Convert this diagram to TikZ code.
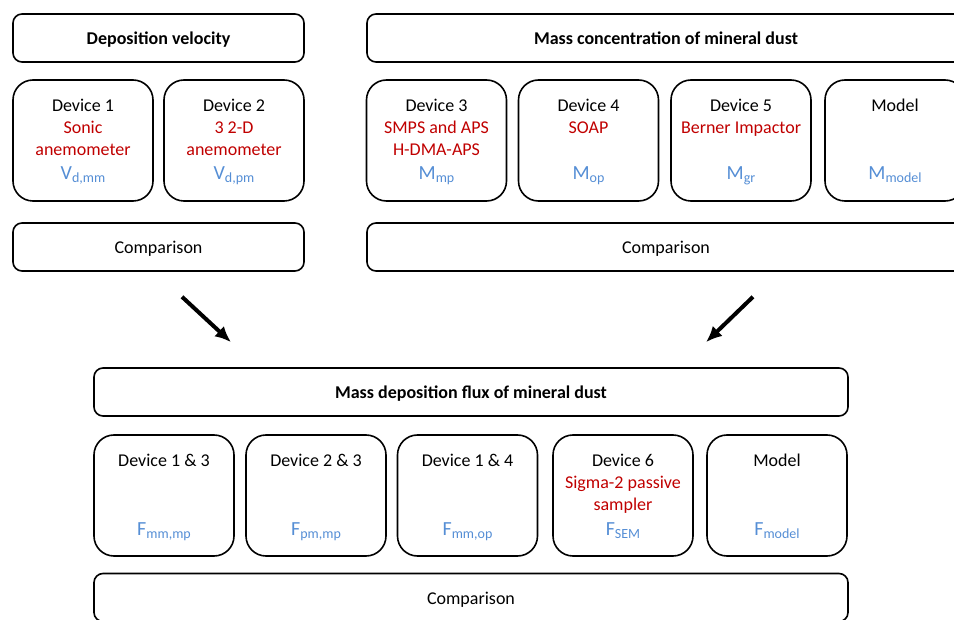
\documentclass[tikz,border=0pt]{standalone}
\usepackage{fontspec}
\setmainfont{Carlito}
\usetikzlibrary{arrows.meta,positioning}
\definecolor{instred}{HTML}{C00000}
\definecolor{qtyblue}{HTML}{558ED5}
\newcommand{\qsub}[1]{\raisebox{-3.5pt}{\fontsize{14}{14}\selectfont #1}}

\begin{document}
\begin{tikzpicture}[x=1pt, y=-1pt]
        \tikzset{
            titlebox/.style={draw=black, line width=1.6pt, rounded corners=9pt, minimum height=48pt, inner sep=0pt, text height=14pt, text depth=0pt, font=\fontsize{18}{21}\selectfont\bfseries},
            cmpbox/.style={draw=black, line width=1.6pt, rounded corners=9pt, minimum height=48pt, inner sep=0pt, text height=13.5pt, text depth=0pt, font=\fontsize{18}{21}\selectfont},
            devbox/.style={draw=black, line width=1.6pt, rounded corners=20pt, minimum width=140pt, minimum height=121pt, inner sep=0pt},
            devname/.style={anchor=base, inner sep=0pt, font=\fontsize{18}{21}\selectfont},
            instname/.style={devname, text=instred},
            qtyname/.style={anchor=base, inner sep=0pt, text=qtyblue, font=\fontsize{20}{22}\selectfont},
            flowarrow/.style={-{Latex[length=16pt,width=14pt]}, line width=4pt}
        }
        \clip (0,0) rectangle (954,620);

        % deposition velocity
        \node[titlebox, minimum width=291pt] (velT) at (158.5,38) {Deposition velocity};
        \node[devbox] (dev1) at (83,140.5) {};
        \node[devbox] (dev2) at (234,140.5) {};
        \node[cmpbox, minimum width=291pt] (velC) at (158.5,247) {Comparison};
        \node[devname] (dev1n) at ([yshift=-32pt]dev1.north) {Device 1};
        \node[instname] (dev1a) at ([yshift=-54pt]dev1.north) {Sonic};
        \node[instname] (dev1b) at ([yshift=-76pt]dev1.north) {anemometer};
        \node[qtyname] (dev1q) at ([yshift=-100pt]dev1.north) {V\qsub{d,mm}};
        \node[devname] (dev2n) at ([yshift=-32pt]dev2.north) {Device 2};
        \node[instname] (dev2a) at ([yshift=-54pt]dev2.north) {3 2-D};
        \node[instname] (dev2b) at ([yshift=-76pt]dev2.north) {anemometer};
        \node[qtyname] (dev2q) at ([yshift=-100pt]dev2.north) {V\qsub{d,pm}};

        % mass concentration
        \node[titlebox, minimum width=598pt] (conT) at (666,38) {Mass concentration of mineral dust};
        \node[devbox] (dev3) at (436.5,140.5) {};
        \node[devbox] (dev4) at (588.5,140.5) {};
        \node[devbox] (dev5) at (741,140.5) {};
        \node[devbox] (mod1) at (895,140.5) {};
        \node[cmpbox, minimum width=598pt] (conC) at (666,247) {Comparison};
        \node[devname] (dev3n) at ([yshift=-32pt]dev3.north) {Device 3};
        \node[instname] (dev3a) at ([yshift=-54pt]dev3.north) {SMPS and APS};
        \node[instname] (dev3b) at ([yshift=-76pt]dev3.north) {H-DMA-APS};
        \node[qtyname] (dev3q) at ([yshift=-100pt]dev3.north) {M\qsub{mp}};
        \node[devname] (dev4n) at ([yshift=-32pt]dev4.north) {Device 4};
        \node[instname] (dev4a) at ([yshift=-54pt]dev4.north) {SOAP};
        \node[qtyname] (dev4q) at ([yshift=-100pt]dev4.north) {M\qsub{op}};
        \node[devname] (dev5n) at ([yshift=-32pt]dev5.north) {Device 5};
        \node[instname] (dev5a) at ([yshift=-54pt]dev5.north) {Berner Impactor};
        \node[qtyname] (dev5q) at ([yshift=-100pt]dev5.north) {M\qsub{gr}};
        \node[devname] (mod1n) at ([yshift=-32pt]mod1.north) {Model};
        \node[qtyname] (mod1q) at ([yshift=-100pt]mod1.north) {M\qsub{model}};

        % deposition flux
        \node[titlebox, minimum width=754pt] (fluxT) at (471,392) {Mass deposition flux of mineral dust};
        \node[devbox] (f13) at (164,495.5) {};
        \node[devbox] (f23) at (316,495.5) {};
        \node[devbox] (f14) at (467.5,495.5) {};
        \node[devbox] (dev6) at (623,495.5) {};
        \node[devbox] (mod2) at (777,495.5) {};
        \node[cmpbox, minimum width=754pt] (fluxC) at (471,597.5) {Comparison};
        \node[devname] (f13n) at ([yshift=-32pt]f13.north) {Device 1 \& 3};
        \node[qtyname] (f13q) at ([yshift=-101pt]f13.north) {F\qsub{mm,mp}};
        \node[devname] (f23n) at ([yshift=-32pt]f23.north) {Device 2 \& 3};
        \node[qtyname] (f23q) at ([yshift=-101pt]f23.north) {F\qsub{pm,mp}};
        \node[devname] (f14n) at ([yshift=-32pt]f14.north) {Device 1 \& 4};
        \node[qtyname] (f14q) at ([yshift=-101pt]f14.north) {F\qsub{mm,op}};
        \node[devname] (dev6n) at ([yshift=-32pt]dev6.north) {Device 6};
        \node[instname] (dev6a) at ([yshift=-54pt]dev6.north) {Sigma-2 passive};
        \node[instname] (dev6b) at ([yshift=-76pt]dev6.north) {sampler};
        \node[qtyname] (dev6q) at ([yshift=-101pt]dev6.north) {F\qsub{SEM}};
        \node[devname] (mod2n) at ([yshift=-32pt]mod2.north) {Model};
        \node[qtyname] (mod2q) at ([yshift=-101pt]mod2.north) {F\qsub{model}};

        % arrows into the flux block
        \coordinate (velOut) at ([xshift=23.5pt,yshift=-25pt]velC.south);
        \coordinate (conOut) at ([xshift=87pt,yshift=-25pt]conC.south);
        \coordinate (fluxInL) at ([xshift=-240pt,yshift=25pt]fluxT.north);
        \coordinate (fluxInR) at ([xshift=235pt,yshift=25pt]fluxT.north);
        \draw[flowarrow] (velOut) -- (fluxInL);
        \draw[flowarrow] (conOut) -- (fluxInR);
    \end{tikzpicture}
\end{document}
